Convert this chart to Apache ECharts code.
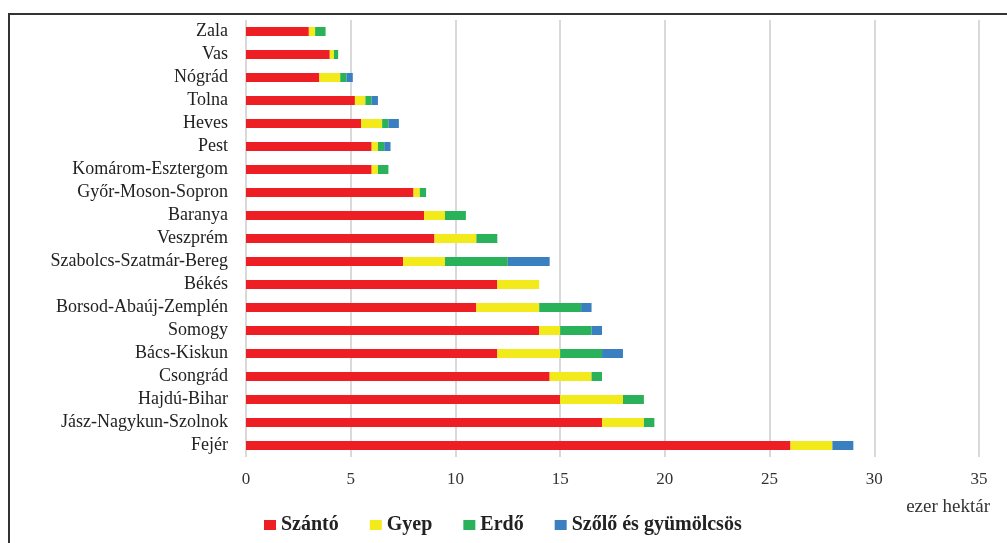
<!DOCTYPE html>
<html>
<head>
<meta charset="utf-8">
<script src="https://cdn.jsdelivr.net/npm/echarts@6/dist/echarts.min.js"></script>
<style>
  html, body { margin: 0; padding: 0; background: #fff; }
  #chart0 { width: 1007px; height: 543px; }
</style>
</head>
<body>
<div id="chart0"></div>
<script>
// megyék alulról felfelé (Fejér legalul)
var megyek = ['Fejér', 'Jász-Nagykun-Szolnok', 'Hajdú-Bihar', 'Csongrád', 'Bács-Kiskun', 'Somogy',
  'Borsod-Abaúj-Zemplén', 'Békés', 'Szabolcs-Szatmár-Bereg', 'Veszprém', 'Baranya', 'Győr-Moson-Sopron',
  'Komárom-Esztergom', 'Pest', 'Heves', 'Tolna', 'Nógrád', 'Vas', 'Zala']
var szanto = [26, 17, 15, 14.5, 12, 14, 11, 12, 7.5, 9, 8.5, 8, 6, 6, 5.5, 5.2, 3.5, 4, 3]
var gyep = [2, 2, 3, 2, 3, 1, 3, 2, 2, 2, 1, 0.3, 0.3, 0.3, 1, 0.5, 1, 0.2, 0.3]
var erdo = [0, 0.5, 1, 0.5, 2, 1.5, 2, 0, 3, 1, 1, 0.3, 0.5, 0.3, 0.3, 0.3, 0.3, 0.2, 0.5]
var szolo = [1, 0, 0, 0, 1, 0.5, 0.5, 0, 2, 0, 0, 0, 0, 0.3, 0.5, 0.3, 0.3, 0, 0]
var xTicks = { min: 0, max: 35, interval: 5 }

var serif = '"Liberation Serif", "Times New Roman", serif'
var chart0 = echarts.init(document.getElementById('chart0'))

function sor(name, data, color) {
  return {
    name: name,
    type: 'bar',
    stack: 'ossz',
    barWidth: 9,
    itemStyle: { color: color },
    data: data
  }
}

var option0 = {
  animation: false,
  textStyle: { fontFamily: serif, color: '#222' },
  grid: { left: 246, right: 28, top: 20, bottom: 86, containLabel: false },
  legend: {
    left: 259,
    top: 510,
    icon: 'rect',
    itemWidth: 12,
    itemHeight: 10,
    itemGap: 31,
    textStyle: { fontFamily: serif, fontSize: 20, fontWeight: 'bold', color: '#222' },
    data: ['Szántó', 'Gyep', 'Erdő', 'Szőlő és gyümölcsös']
  },
  xAxis: {
    type: 'value',
    min: xTicks.min,
    max: xTicks.max,
    interval: xTicks.interval,
    axisLine: { show: false },
    axisTick: { show: false },
    axisLabel: { fontFamily: serif, fontSize: 17, color: '#333', margin: 14 },
    splitLine: { lineStyle: { color: '#d9d9d9', width: 2 } }
  },
  yAxis: {
    type: 'category',
    data: megyek,
    axisLine: { show: false },
    axisTick: { show: false },
    axisLabel: { fontFamily: serif, fontSize: 18, color: '#222', margin: 18, interval: 0 }
  },
  graphic: [
    {
      type: 'rect',
      shape: { x: 9, y: 14, width: 1200, height: 700 },
      style: { fill: 'none', stroke: '#333', lineWidth: 2 },
      silent: true
    },
    {
      type: 'text',
      right: 17,
      top: 498,
      style: { text: 'ezer hektár', font: '19px ' + serif, fill: '#333' }
    }
  ],
  series: [
    sor('Szántó', szanto, '#ed1f24'),
    sor('Gyep', gyep, '#f2ea1a'),
    sor('Erdő', erdo, '#2ab25b'),
    sor('Szőlő és gyümölcsös', szolo, '#3a80c1')
  ]
}

chart0.setOption(option0)
</script>
</body>
</html>
